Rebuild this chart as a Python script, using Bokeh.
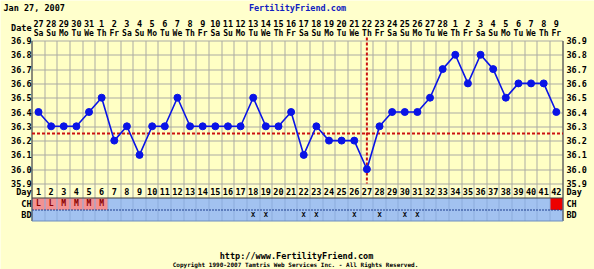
import math
from bokeh.plotting import figure
from bokeh.models import Range1d
from bokeh.core.properties import value
from bokeh.embed import file_html
from bokeh.resources import INLINE

# ---------------- data ----------------
chart_date = "Jan 27, 2007"
site_title = "FertilityFriend.com"
cycle_days = list(range(1, 43))
date_labels = ["27", "28", "29", "30", "31", "1", "2", "3", "4", "5", "6", "7", "8", "9",
               "10", "11", "12", "13", "14", "15", "16", "17", "18", "19", "20", "21", "22",
               "23", "24", "25", "26", "27", "28", "1", "2", "3", "4", "5", "6", "7", "8", "9"]
weekday_labels = ["Sa", "Su", "Mo", "Tu", "We", "Th", "Fr"] * 6
temps = [36.4, 36.3, 36.3, 36.3, 36.4, 36.5, 36.2, 36.3, 36.1, 36.3,
         36.3, 36.5, 36.3, 36.3, 36.3, 36.3, 36.3, 36.5, 36.3, 36.3,
         36.4, 36.1, 36.3, 36.2, 36.2, 36.2, 36.0, 36.3, 36.4, 36.4,
         36.4, 36.5, 36.7, 36.8, 36.6, 36.8, 36.7, 36.5, 36.6, 36.6,
         36.6, 36.4]
temp_ticks = [35.9, 36.0, 36.1, 36.2, 36.3, 36.4, 36.5, 36.6, 36.7, 36.8, 36.9]
temp_tick_labels = ["35.9", "36.0", "36.1", "36.2", "36.3", "36.4", "36.5", "36.6", "36.7", "36.8", "36.9"]
coverline = 36.25
ovulation_day = 27
ch_days = [1, 2, 3, 4, 5, 6]
ch_labels = ["L", "L", "M", "M", "M", "M"]
flag_days = [42]
bd_days = [18, 19, 22, 23, 26, 28, 30, 31]
footer_url = "http://www.FertilityFriend.com"
footer_copy = "Copyright 1990-2007 Tamtris Web Services Inc. - All Rights Reserved."

# ---------------- layout (pixel geometry of the page) ----------------
W, H = 594, 269
X0, DX = 38.0, 12.63          # pixel centre of day 1, column width
Y_TOP, Y_BOT = 40.0, 183.0    # pixel rows of 36.9 and 35.9
PPT = (Y_BOT - Y_TOP) / 1.0   # pixels per degree


def tx(px):
    return 1 + (px - X0) / DX


def ty(py):
    return 35.9 + (Y_BOT - py) / PPT


def snap_x(d):
    return tx(math.floor(X0 + (d - 1) * DX) + 0.5)


def snap_y(t):
    return ty(math.floor(Y_BOT - (t - 35.9) * PPT + 0.5) + 0.5)


def snap_py(py):
    return ty(math.floor(py) + 0.5)


FONT = value("DejaVu Sans Mono")
BG = "#FFFFCC"

p = figure(width=W, height=H, x_range=Range1d(tx(0), tx(W)), y_range=Range1d(ty(H), ty(0)),
           min_border=0, toolbar_location=None, output_backend="svg",
           x_axis_type=None, y_axis_type=None)
p.background_fill_color = BG
p.border_fill_color = BG
p.outline_line_color = None

d_lo, d_hi = 0.5, 42.5
xl, xr = snap_x(d_lo), snap_x(d_hi)
yt, yb = snap_y(36.9), snap_y(35.9)
y_day_bot = snap_py(197)
y_ch_bot = snap_py(209)
y_bd_bot = snap_py(220)

# chart area
p.quad(left=[xl], right=[xr], bottom=[yb], top=[yt], fill_color="#FFFFC4", line_color=None)
# CH / BD rows
p.quad(left=[xl], right=[xr], bottom=[y_bd_bot], top=[y_day_bot], fill_color="#A2C2F0", line_color=None)
p.quad(left=[snap_x(d - 0.5) for d in ch_days], right=[snap_x(d + 0.5) for d in ch_days],
       bottom=[y_ch_bot] * len(ch_days), top=[y_day_bot] * len(ch_days),
       fill_color="#F29292", line_color=None)
p.quad(left=[snap_x(d - 0.5) for d in flag_days], right=[snap_x(d + 0.5) for d in flag_days],
       bottom=[y_ch_bot] * len(flag_days), top=[y_day_bot] * len(flag_days),
       fill_color="#EE0000", line_color=None)

# grid
bounds = [snap_x(d + 0.5) for d in range(0, 43)]
p.segment(x0=bounds, x1=bounds, y0=[yt] * len(bounds), y1=[y_day_bot] * len(bounds),
          line_color="#ABABA3", line_width=1)
p.segment(x0=bounds, x1=bounds, y0=[y_day_bot] * len(bounds), y1=[y_bd_bot] * len(bounds),
          line_color="#8CACDC", line_width=1)
ys = [snap_y(t) for t in temp_ticks]
p.segment(x0=[xl] * len(ys), x1=[xr] * len(ys), y0=ys, y1=ys,
          line_color="#ABABA3", line_width=1)
p.segment(x0=[xl, xl, xr], x1=[xl, xr, xr], y0=[yt, y_day_bot, yt],
          y1=[y_bd_bot, y_day_bot, y_bd_bot], line_color="#404040", line_width=1)
p.segment(x0=[xl], x1=[xr], y0=[y_ch_bot], y1=[y_ch_bot], line_color="#1F3F8F",
          line_width=1, line_dash="2 1")
p.segment(x0=[xl], x1=[xr], y0=[y_bd_bot], y1=[y_bd_bot], line_color="#6F8FBF", line_width=1)

# coverline and ovulation line
p.segment(x0=[xl], x1=[xr], y0=[coverline], y1=[coverline], line_color="#CC1111",
          line_width=2, line_dash="3 2")
p.segment(x0=[ovulation_day], x1=[ovulation_day], y0=[ty(37)], y1=[35.9], line_color="#CC1111",
          line_width=2, line_dash="3 2")

# temperatures
p.line(cycle_days, temps, line_color="#0A14E6", line_width=1.6)
p.scatter(cycle_days, temps, size=7, fill_color="#0A14E6", line_color="#0A14E6")

txt = dict(text_font=FONT, text_font_style="bold", text_baseline="middle")
FS = "8.5px"

# header
p.text(x=[tx(3)], y=[ty(7)], text=[chart_date], text_align="left", text_font_size=FS,
       text_color="black", **txt)
p.text(x=[tx(297)], y=[ty(7)], text=[site_title], text_align="center", text_font_size=FS,
       text_color="#1020C0", **txt)
p.text(x=[tx(31)], y=[ty(27)], text=["Date"], text_align="right", text_font_size=FS,
       text_color="black", **txt)
p.text(x=cycle_days, y=[ty(23)] * 42, text=date_labels, text_align="center", text_font_size=FS,
       text_color="black", **txt)
p.text(x=cycle_days, y=[ty(33)] * 42, text=weekday_labels, text_align="center", text_font_size="8px",
       text_color="black", **txt)

# temperature labels both sides
p.text(x=[tx(31)] * len(temp_ticks), y=temp_ticks, text=temp_tick_labels, text_align="right",
       text_font_size=FS, text_color="black", **txt)
p.text(x=[tx(566)] * len(temp_ticks), y=temp_ticks, text=temp_tick_labels, text_align="left",
       text_font_size=FS, text_color="black", **txt)

# day row
p.text(x=cycle_days, y=[ty(191)] * 42, text=[str(d) for d in cycle_days], text_align="center",
       text_font_size=FS, text_color="black", **txt)
for side_x, align in ((tx(31), "right"), (tx(566), "left")):
    p.text(x=[side_x] * 3, y=[ty(191), ty(203), ty(214.5)], text=["Day", "CH", "BD"],
           text_align=align, text_font_size=FS, text_color="black", **txt)

# CH letters and BD marks
p.text(x=ch_days, y=[ty(203)] * len(ch_days), text=ch_labels, text_align="center",
       text_font_size="8px", text_color="#8B0000", **txt)
p.text(x=bd_days, y=[ty(214.5)] * len(bd_days), text=["X"] * len(bd_days), text_align="center",
       text_font_size="7px", text_color="black", **txt)

# footer
p.text(x=[tx(296)], y=[ty(255)], text=[footer_url], text_align="center", text_font_size=FS,
       text_color="black", **txt)
p.text(x=[tx(295)], y=[ty(264)], text=[footer_copy], text_align="center", text_font_size="6px",
       text_color="black", **txt)

open("out.html", "w").write(file_html(p, INLINE))
